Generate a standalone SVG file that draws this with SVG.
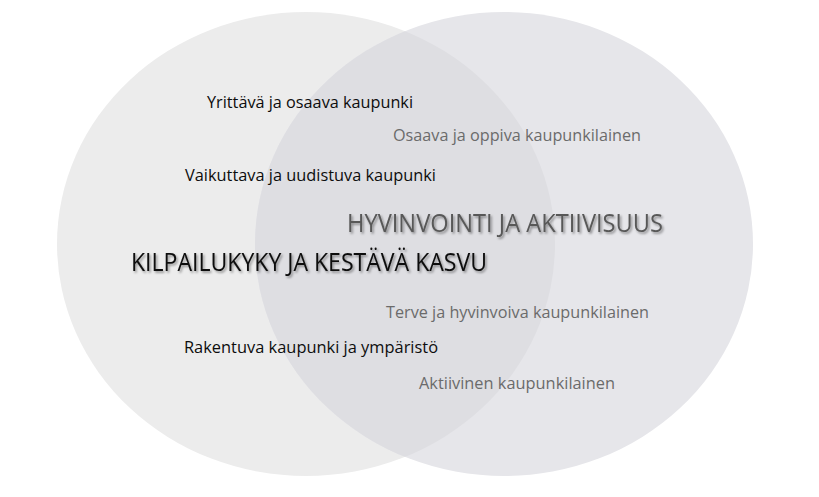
<svg xmlns="http://www.w3.org/2000/svg" width="819" height="497" viewBox="0 0 819 497">
  <defs>
    <clipPath id="clipLeft">
      <ellipse cx="306" cy="244" rx="249" ry="232"/>
    </clipPath>
    <filter id="shadow" x="-5%" y="-30%" width="110%" height="160%">
      <feDropShadow dx="1.5" dy="1.8" stdDeviation="1" flood-color="#000" flood-opacity="0.4"/>
    </filter>
  </defs>
  <style>
    .small { font-family: "Open Sans", "Noto Sans", "Liberation Sans", sans-serif; font-size: 15.5px; }
    .dark { fill: #0d0d0d; }
    .grey { fill: #6b6b6b; }
    .title { font-family: "Open Sans", "Noto Sans", "Liberation Sans", sans-serif; font-size: 25px; filter: url(#shadow); }
  </style>
  <rect width="819" height="497" fill="#ffffff"/>
  <g id="circle-left">
    <ellipse cx="306" cy="244" rx="249" ry="232" fill="#ececec"/>
  </g>
  <g id="circle-right">
    <ellipse cx="504" cy="244" rx="249" ry="232" fill="#e6e6ea"/>
    <ellipse cx="504" cy="244" rx="249" ry="232" fill="#dedee2" clip-path="url(#clipLeft)"/>
  </g>
  <g id="connectors"/>
  <g id="label-yrittava">
    <text class="small dark" x="207" y="108" textLength="206" lengthAdjust="spacingAndGlyphs">Yrittävä ja osaava kaupunki</text>
  </g>
  <g id="label-osaava">
    <text class="small grey" x="393" y="141" textLength="248" lengthAdjust="spacingAndGlyphs">Osaava ja oppiva kaupunkilainen</text>
  </g>
  <g id="label-vaikuttava">
    <text class="small dark" x="185" y="181" textLength="251" lengthAdjust="spacingAndGlyphs">Vaikuttava ja uudistuva kaupunki</text>
  </g>
  <g id="title-hyvinvointi">
    <text class="title" fill="#595959" x="347" y="232" textLength="316" lengthAdjust="spacingAndGlyphs">HYVINVOINTI JA AKTIIVISUUS</text>
  </g>
  <g id="title-kilpailukyky">
    <text class="title" fill="#0d0d0d" x="131" y="271" textLength="356" lengthAdjust="spacingAndGlyphs">KILPAILUKYKY JA KESTÄVÄ KASVU</text>
  </g>
  <g id="label-terve">
    <text class="small grey" x="386" y="318" textLength="263" lengthAdjust="spacingAndGlyphs">Terve ja hyvinvoiva kaupunkilainen</text>
  </g>
  <g id="label-rakentuva">
    <text class="small dark" x="184" y="353" textLength="254" lengthAdjust="spacingAndGlyphs">Rakentuva kaupunki ja ympäristö</text>
  </g>
  <g id="label-aktiivinen">
    <text class="small grey" x="419" y="389" textLength="196" lengthAdjust="spacingAndGlyphs">Aktiivinen kaupunkilainen</text>
  </g>
</svg>
